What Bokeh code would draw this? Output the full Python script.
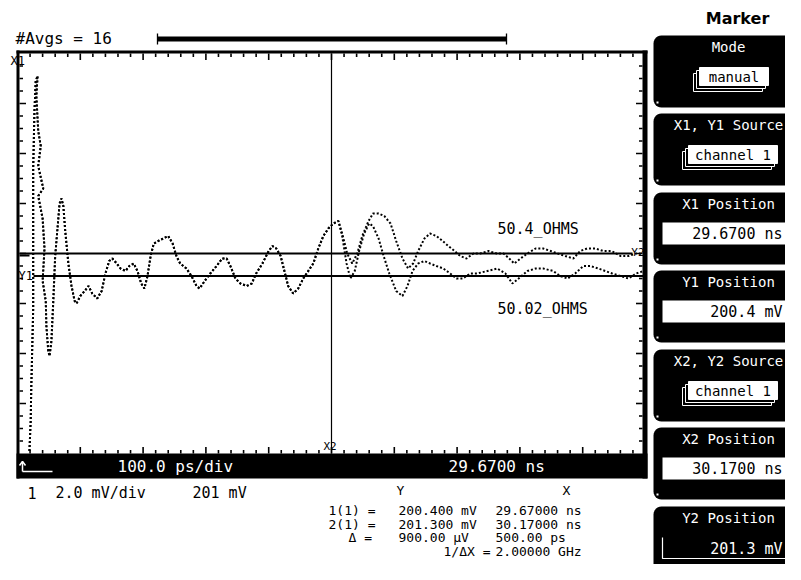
import math
from bokeh.plotting import figure
from bokeh.models import Range1d
from bokeh.embed import file_html
from bokeh.resources import INLINE
from bokeh.core.properties import value

# ---------------- data (read from the reference screen) ----------------
# time in ps after the left screen edge (29.67 ns), voltage in mV
t_shared = [19, 21, 22, 25, 25, 25, 27, 29, 32, 30, 33, 37, 33, 41, 33, 40, 43, 40, 45, 46,
            49, 51, 54, 57, 60, 64, 67, 70, 73, 76, 81, 86, 91, 94, 100, 107, 113, 119, 127,
            134, 140, 146, 151, 158, 164, 172, 178, 185, 191, 197, 202, 207, 212, 217, 224,
            232, 240, 247, 253, 259, 269, 277, 285, 290, 298, 307, 317, 326, 333, 339, 347,
            355, 365, 373, 380, 390, 400, 406, 412, 419, 425, 431, 439, 447, 455, 463, 471,
            479, 487, 495, 503, 511]
v_shared = [193.4, 194.6, 196.0, 199.1, 201.9, 204.7, 207.0, 208.2, 208.4, 207.6, 206.2, 205.6,
            204.8, 203.9, 203.6, 202.7, 201.5, 200.2, 199.4, 198.4, 197.4, 197.2, 197.8, 199.4,
            201.2, 202.4, 203.3, 203.5, 203.2, 202.2, 200.9, 200.0, 199.4, 199.3, 199.6, 199.8,
            200.0, 199.7, 199.5, 199.8, 200.5, 201.0, 201.1, 200.9, 200.7, 200.6, 200.8, 200.9,
            200.6, 200.1, 199.9, 200.4, 201.2, 201.7, 201.8, 201.9, 202.0, 201.7, 201.2, 200.9,
            200.7, 200.4, 200.0, 199.9, 200.2, 200.5, 200.8, 201.1, 201.1, 200.8, 200.3, 200.1,
            200.0, 200.1, 200.5, 200.9, 201.4, 201.6, 201.5, 201.2, 200.6, 200.0, 199.7, 199.9,
            200.3, 200.6, 200.9, 201.5, 202.0, 202.3, 202.5, 202.6]

# trace continuing as "50.02_OHMS" (lower)
t_5002 = [517, 524, 530, 537, 544, 552, 560, 566, 575, 583, 592, 603, 613, 621, 629, 638, 648,
          657, 667, 678, 689, 699, 709, 721, 732, 748, 764, 777, 788, 798, 812, 825, 837, 853,
          864, 876, 888, 901, 912, 925, 936, 947, 960, 973, 985, 997]
v_5002 = [202.0, 200.9, 200.3, 200.6, 201.4, 202.1, 202.5, 202.4, 201.9, 201.2, 200.5, 199.8,
          199.6, 200.0, 200.6, 200.9, 201.0, 200.9, 200.8, 200.7, 200.5, 200.3, 200.3, 200.5,
          200.5, 200.6, 200.7, 200.5, 200.1, 200.3, 200.6, 200.7, 200.7, 200.6, 200.4, 200.3,
          200.5, 200.8, 200.8, 200.7, 200.6, 200.5, 200.4, 200.3, 200.5, 200.6]

# trace continuing as "50.4_OHMS" (upper)
t_504 = [517, 525, 533, 541, 549, 559, 566, 575, 584, 594, 603, 613, 622, 630, 638, 648, 657,
         667, 677, 686, 696, 705, 715, 726, 737, 750, 763, 774, 783, 791, 801, 812, 825, 837,
         849, 860, 872, 885, 896, 907, 920, 933, 946, 960, 973, 985, 997]
v_504 = [202.1, 201.3, 200.9, 201.3, 202.0, 202.6, 202.9, 202.9, 202.8, 202.5, 201.8, 201.1,
         200.7, 200.9, 201.4, 201.9, 202.1, 202.0, 201.8, 201.6, 201.4, 201.2, 201.1, 201.3,
         201.3, 201.4, 201.3, 201.3, 201.1, 200.9, 201.1, 201.3, 201.5, 201.5, 201.4, 201.3,
         201.2, 201.1, 201.4, 201.5, 201.5, 201.4, 201.4, 201.2, 201.2, 201.3, 201.3]

trace_labels = ["50.4_OHMS", "50.02_OHMS"]

# scope settings / markers
time_per_div_ps = 100.0
mv_per_div = 2.0
n_xdiv, n_ydiv = 10, 8
screen_center_mv = 201.3
x1_ps, x2_ps = 0.0, 500.0          # 29.67 ns and 30.17 ns
y1_mv, y2_mv = 200.4, 201.3

panel_titles = ["Mode", "X1, Y1 Source", "X1 Position", "Y1 Position",
                "X2, Y2 Source", "X2 Position", "Y2 Position"]

# ---------------- layout (pixels) ----------------
W, H = 785, 564
GL, GR, GT, GB = 17, 645, 53, 453   # graticule box

px_per_ps = (GR - GL) / (n_xdiv * time_per_div_ps)
px_per_mv = (GB - GT) / (n_ydiv * mv_per_div)
v_top = screen_center_mv + n_ydiv / 2 * mv_per_div


def v_at(ypx):
    return v_top - (ypx - GT) / px_per_mv


p = figure(width=W, height=H, x_range=Range1d(0, W), y_range=Range1d(H, 0),
           output_backend="svg", toolbar_location=None, min_border=0,
           x_axis_location=None, y_axis_location=None)
p.outline_line_color = None
p.grid.visible = False
p.background_fill_color = "white"
p.border_fill_color = "white"
p.extra_x_ranges = {"t": Range1d((0 - GL) / px_per_ps, (W - GL) / px_per_ps)}
p.extra_y_ranges = {"v": Range1d(v_at(H), v_at(0))}

MONO = "DejaVu Sans Mono"


def txt(x, y, s, size=15, color="black", align="left", font=MONO, style="normal"):
    p.text(x=[x], y=[y], text=[s], text_font=value(font), text_font_size=f"{size}px",
           text_color=color, text_align=align, text_baseline="middle", text_font_style=style)


# ---------------- waveforms ----------------
for tt, vv in ((t_shared + t_5002, v_shared + v_5002), (t_shared + t_504, v_shared + v_504)):
    p.line(x=tt, y=vv, x_range_name="t", y_range_name="v", line_color="black",
           line_width=2, line_dash="2 2")

txt(497, 228, trace_labels[0], size=15)
txt(497, 308, trace_labels[1], size=15)

# ---------------- marker cursors ----------------
p.segment(x0=[x2_ps], x1=[x2_ps], y0=[GT], y1=[GB], x_range_name="t",
          line_color="black", line_width=1.2)
p.segment(x0=[33, GL + 2], x1=[GR - 2, 632], y0=[y1_mv, y2_mv], y1=[y1_mv, y2_mv],
          y_range_name="v", line_color="black", line_width=1.8)
txt(18, 275, "Y1", size=12)
txt(644, 252, "Y2", size=11, align="right")
txt(323, 446, "X2", size=11)
txt(10, 60, "X1", size=12)
p.segment(x0=[19], x1=[29], y0=[255], y1=[255], line_color="black", line_width=2)

# ---------------- graticule frame & ticks ----------------
p.quad(left=[16, 16, 642], right=[647, 19, 647], top=[50, 50, 50], bottom=[53, 478, 478],
       fill_color="black", line_color=None)
p.quad(left=[16], right=[647], top=[453], bottom=[478], fill_color="black", line_color=None)

xt = [k * time_per_div_ps / 5 for k in range(1, n_xdiv * 5)]
xl = [6.5 if k % 5 == 0 else 3.5 for k in range(1, n_xdiv * 5)]
p.segment(x0=xt, x1=xt, y0=[GT] * len(xt), y1=[GT + L for L in xl], x_range_name="t",
          line_color="black", line_width=1.6)
p.segment(x0=xt, x1=xt, y0=[GB] * len(xt), y1=[GB - L for L in xl], x_range_name="t",
          line_color="black", line_width=1.6)
vbot = v_top - n_ydiv * mv_per_div
yt = [vbot + k * mv_per_div / 4 for k in range(1, n_ydiv * 4)]
yl = [6.5 if k % 4 == 0 else 3.5 for k in range(1, n_ydiv * 4)]
p.segment(x0=[19] * len(yt), x1=[19 + L for L in yl], y0=yt, y1=yt, y_range_name="v",
          line_color="black", line_width=1.6)
p.segment(x0=[642] * len(yt), x1=[642 - L for L in yl], y0=yt, y1=yt, y_range_name="v",
          line_color="black", line_width=1.6)

# status bar inside the black strip
p.multi_line(xs=[[22, 22], [19, 22, 25], [22, 52]], ys=[[471, 461], [465, 461, 465], [471, 471]],
             line_color="white", line_width=1.5)
txt(117, 466, "100.0 ps/div", size=16, color="white")
txt(448, 466, "29.6700 ns", size=16, color="white")

# ---------------- header ----------------
txt(15, 38, "#Avgs = 16", size=16)
p.quad(left=[157], right=[506], top=[36], bottom=[41], fill_color="black", line_color=None)
p.segment(x0=[157, 506], x1=[157, 506], y0=[33, 33], y1=[44, 44], line_color="black", line_width=1.3)

# ---------------- lower text ----------------
txt(27, 492, "1", size=15)
txt(55, 492, "2.0 mV/div", size=15)
txt(192, 492, "201 mV", size=15)
txt(400, 490, "Y", size=13, align="center")
txt(566, 490, "X", size=13, align="center")
rows = [(510, "1(1) =", 328, "200.400 mV", "29.67000 ns"),
        (524, "2(1) =", 328, "201.300 mV", "30.17000 ns"),
        (537, "\u0394 =", 348, "900.00 \u00b5V", "500.00 ps")]
for yy, lab, lx, yv, xv in rows:
    txt(lx, yy, lab, size=13)
    txt(398, yy, yv, size=13)
    txt(495, yy, xv, size=13)
txt(443, 551, "1/\u0394X =", size=13)
txt(495, 551, "2.00000 GHz", size=13)

# ---------------- softkey panel ----------------
txt(737, 18, "Marker", size=16, font="DejaVu Sans", style="bold", align="center")
tops = [35, 113, 192, 270, 349, 427, 506]
BL, BR, BH, RAD = 653, W + 5, 72, 8
xs, ys = [], []
for top in tops:
    bot = top + BH
    px_, py_ = [BL + RAD, BR, BR, BL + RAD], [top, top, bot, bot]
    for k in range(1, 6):
        a = math.pi / 2 * k / 6
        px_.append(BL + RAD - RAD * math.sin(a)); py_.append(bot - RAD + RAD * math.cos(a))
    px_ += [BL, BL]; py_ += [bot - RAD, top + RAD]
    for k in range(1, 6):
        a = math.pi / 2 * k / 6
        px_.append(BL + RAD - RAD * math.cos(a)); py_.append(top + RAD - RAD * math.sin(a))
    xs.append(px_); ys.append(py_)
p.patches(xs=xs, ys=ys, fill_color="black", line_color=None)
p.quad(left=[656] * 7, right=[658] * 7, top=[t + BH - 6 for t in tops],
       bottom=[t + BH - 4 for t in tops], fill_color="white", line_color=None)
for top, title in zip(tops, panel_titles):
    txt(728, top + 11, title, size=14, color="white", align="center")


def button(x0, x1, top, label):
    for off in (6, 3):
        p.quad(left=[x0 - off], right=[x1 - off], top=[top + off], bottom=[top + 18 + off],
               fill_color="black", line_color="white", line_width=1)
    p.quad(left=[x0], right=[x1], top=[top], bottom=[top + 18], fill_color="white",
           line_color="white", line_width=1)
    txt((x0 + x1) / 2, top + 9.5, label, size=14, align="center")


button(699, 768, tops[0] + 32, "manual")
button(688, 777, tops[1] + 32, "channel 1")
button(688, 777, tops[4] + 32, "channel 1")

for top, s in ((tops[2], "29.6700 ns"), (tops[3], "200.4 mV"), (tops[5], "30.1700 ns")):
    p.quad(left=[662], right=[W + 5], top=[top + 30], bottom=[top + 52], fill_color="white", line_color=None)
    txt(782, top + 41, s, size=15, align="right")
p.multi_line(xs=[[662, 662, W + 5]], ys=[[tops[6] + 31, tops[6] + 52, tops[6] + 52]],
             line_color="white", line_width=1.2)
txt(782, tops[6] + 42, "201.3 mV", size=15, color="white", align="right")

open("out.html", "w").write(file_html(p, INLINE))
